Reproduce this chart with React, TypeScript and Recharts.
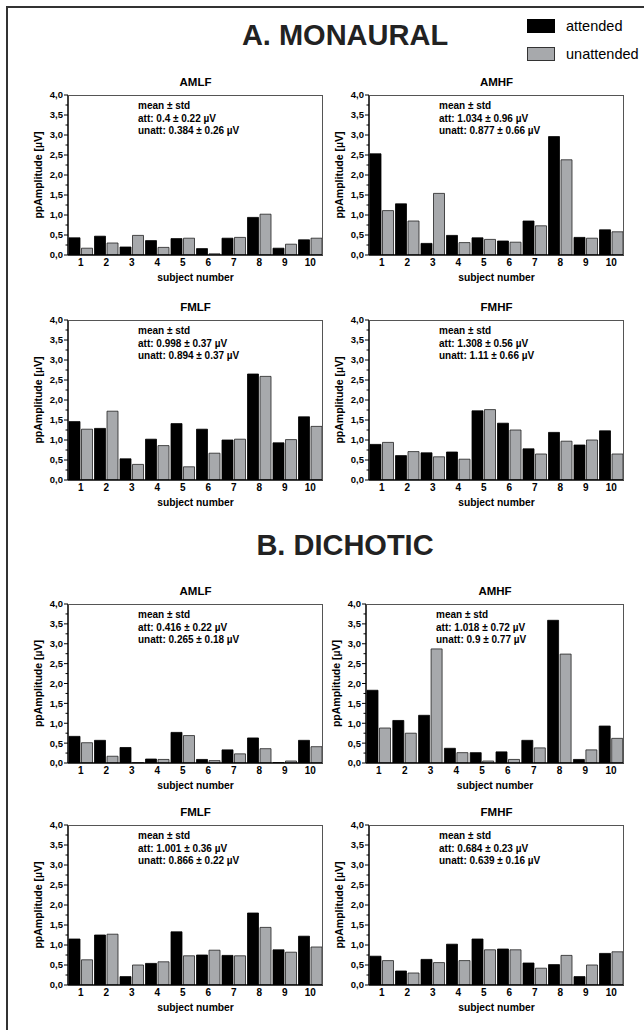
import React from 'react';
import { BarChart, Bar, XAxis, YAxis } from 'recharts';

const SUBJECTS = ['1', '2', '3', '4', '5', '6', '7', '8', '9', '10'];
const Y_TICKS = [0, 0.25, 0.5, 0.75, 1, 1.25, 1.5, 1.75, 2, 2.25, 2.5, 2.75, 3, 3.25, 3.5, 3.75, 4];

// A. MONAURAL
const MON_AMLF_ATT = [0.43, 0.47, 0.2, 0.36, 0.41, 0.16, 0.42, 0.94, 0.17, 0.38];
const MON_AMLF_UNATT = [0.17, 0.3, 0.49, 0.19, 0.42, 0.03, 0.44, 1.02, 0.27, 0.42];
const MON_AMHF_ATT = [2.53, 1.28, 0.29, 0.49, 0.43, 0.35, 0.85, 2.96, 0.44, 0.63];
const MON_AMHF_UNATT = [1.11, 0.85, 1.54, 0.31, 0.39, 0.32, 0.73, 2.38, 0.42, 0.58];
const MON_FMLF_ATT = [1.46, 1.29, 0.53, 1.02, 1.41, 1.27, 1.0, 2.65, 0.93, 1.58];
const MON_FMLF_UNATT = [1.27, 1.72, 0.39, 0.86, 0.33, 0.67, 1.02, 2.59, 1.01, 1.34];
const MON_FMHF_ATT = [0.89, 0.61, 0.68, 0.7, 1.73, 1.42, 0.78, 1.19, 0.875, 1.23];
const MON_FMHF_UNATT = [0.94, 0.71, 0.58, 0.52, 1.76, 1.25, 0.65, 0.97, 1.0, 0.65];

// B. DICHOTIC
const DIC_AMLF_ATT = [0.67, 0.57, 0.39, 0.1, 0.77, 0.09, 0.33, 0.63, 0.01, 0.57];
const DIC_AMLF_UNATT = [0.51, 0.17, 0.01, 0.09, 0.69, 0.06, 0.23, 0.36, 0.05, 0.41];
const DIC_AMHF_ATT = [1.83, 1.07, 1.2, 0.37, 0.26, 0.28, 0.57, 3.59, 0.09, 0.93];
const DIC_AMHF_UNATT = [0.88, 0.75, 2.87, 0.26, 0.05, 0.09, 0.38, 2.74, 0.33, 0.62];
const DIC_FMLF_ATT = [1.15, 1.25, 0.21, 0.54, 1.33, 0.75, 0.74, 1.8, 0.88, 1.22];
const DIC_FMLF_UNATT = [0.63, 1.27, 0.5, 0.58, 0.73, 0.87, 0.73, 1.44, 0.82, 0.95];
const DIC_FMHF_ATT = [0.72, 0.35, 0.64, 1.02, 1.15, 0.9, 0.55, 0.51, 0.21, 0.79];
const DIC_FMHF_UNATT = [0.61, 0.3, 0.56, 0.61, 0.88, 0.88, 0.42, 0.74, 0.5, 0.83];

const FONT = '"Liberation Sans", Arial, Helvetica, sans-serif';
const GRAY = '#a7a9ac';

const YTick = (props: any) => {
  const { x, y, payload } = props;
  const v = payload.value as number;
  const major = Math.abs(v * 2 - Math.round(v * 2)) < 1e-6;
  return (
    <g>
      <line x1={x} x2={x - (major ? 4 : 2.5)} y1={y} y2={y} stroke="#000" strokeWidth={1} />
      {major && (
        <text x={x - 5} y={y} dy={3.4} textAnchor="end" fontSize={9.5} fontWeight="bold" fontFamily={FONT} fill="#000">
          {v.toFixed(1).replace('.', ',')}
        </text>
      )}
    </g>
  );
};

type PanelProps = {
  px: number; py: number; pw: number; ph: number;
  title: string; att: number[]; unatt: number[]; note: string[];
};

const Panel = ({ px, py, pw, ph, title, att, unatt, note }: PanelProps) => {
  const data = SUBJECTS.map((s, i) => ({ subject: s, att: att[i], unatt: unatt[i] }));
  const mTop = 20, mLeft = 5, yW = 60, xH = 44, mBottom = 4, mRight = 6;
  const left = px - yW - mLeft;
  const top = py - mTop;
  const width = pw + yW + mLeft + mRight;
  const height = ph + mTop + xH + mBottom;
  return (
    <>
      <div style={{ position: 'absolute', left, top, width, height }}>
        <BarChart
          width={width}
          height={height}
          data={data}
          margin={{ top: mTop, left: mLeft, right: mRight, bottom: mBottom }}
          barCategoryGap={1}
          barGap={1.5}
        >
          <XAxis
            dataKey="subject"
            height={xH}
            interval={0}
            tickLine={false}
            tickSize={0}
            tickMargin={4}
            axisLine={{ stroke: '#000', strokeWidth: 1.5 }}
            tick={{ fontSize: 10, fontWeight: 'bold', fill: '#000', fontFamily: FONT }}
            label={{ value: 'subject number', position: 'center', fontSize: 10.3, fontWeight: 'bold', fill: '#000', fontFamily: FONT }}
          />
          <YAxis
            domain={[0, 4]}
            ticks={Y_TICKS}
            interval={0}
            width={yW}
            tickLine={false}
            tickSize={0}
            tickMargin={0}
            allowDataOverflow
            axisLine={{ stroke: '#000', strokeWidth: 1.5 }}
            tick={(p: any) => <YTick {...p} />}
            label={{ value: 'ppAmplitude [µV]', angle: -90, position: 'center', fontSize: 10.5, fontWeight: 'bold', fill: '#000', fontFamily: FONT }}
          />
          <Bar dataKey="att" fill="#000" stroke="#000" strokeWidth={0.8} isAnimationActive={false} />
          <Bar dataKey="unatt" fill={GRAY} stroke="#222" strokeWidth={0.8} isAnimationActive={false} />
        </BarChart>
      </div>
      <div
        style={{
          position: 'absolute', left: px, top: py, width: pw, height: ph,
          borderTop: '1px solid #555', borderRight: '1px solid #555', boxSizing: 'border-box', pointerEvents: 'none',
        }}
      />
      <div
        style={{
          position: 'absolute', left: px, top: py - 20, width: pw, height: 15, lineHeight: '15px',
          textAlign: 'center', fontFamily: FONT, fontWeight: 'bold', fontSize: 11.5, color: '#000',
        }}
      >
        {title}
      </div>
      <div
        style={{
          position: 'absolute', left: px + 70, top: py + 5, fontFamily: FONT, fontWeight: 'bold',
          fontSize: 10, lineHeight: '12.7px', color: '#000', whiteSpace: 'nowrap',
        }}
      >
        {note.map((n) => (
          <div key={n}>{n}</div>
        ))}
      </div>
    </>
  );
};

export default function App() {
  return (
    <div style={{ position: 'absolute', left: 0, top: 0, width: 644, height: 1030, background: '#fff', overflow: 'hidden', fontFamily: FONT }}>
      <div style={{ position: 'absolute', left: 6, top: 6, width: 700, height: 1100, borderLeft: '2px solid #333', borderTop: '2px solid #333' }} />
      <div style={{ position: 'absolute', left: 195, top: 21, width: 300, textAlign: 'center', fontSize: 29, lineHeight: '29px', fontWeight: 'bold', color: '#222' }}>
        A. MONAURAL
      </div>
      <div style={{ position: 'absolute', left: 195, top: 531, width: 300, textAlign: 'center', fontSize: 29, lineHeight: '29px', fontWeight: 'bold', color: '#222' }}>
        B. DICHOTIC
      </div>
      <div style={{ position: 'absolute', left: 527, top: 19, width: 28, height: 14, background: '#000' }} />
      <div style={{ position: 'absolute', left: 527, top: 47, width: 28, height: 14, background: GRAY, border: '1px solid #333', boxSizing: 'border-box' }} />
      <div style={{ position: 'absolute', left: 566, top: 17, fontSize: 14.5, lineHeight: '18px', color: '#000' }}>attended</div>
      <div style={{ position: 'absolute', left: 566, top: 45, fontSize: 14.5, lineHeight: '18px', color: '#000', whiteSpace: 'nowrap' }}>unattended</div>

      <Panel px={68} py={95} pw={255} ph={160} title="AMLF" att={MON_AMLF_ATT} unatt={MON_AMLF_UNATT}
        note={['mean ± std', 'att: 0.4 ± 0.22 µV', 'unatt: 0.384 ± 0.26 µV']} />
      <Panel px={369} py={95} pw={255} ph={160} title="AMHF" att={MON_AMHF_ATT} unatt={MON_AMHF_UNATT}
        note={['mean ± std', 'att: 1.034 ± 0.96 µV', 'unatt: 0.877 ± 0.66 µV']} />
      <Panel px={68} py={320} pw={255} ph={160} title="FMLF" att={MON_FMLF_ATT} unatt={MON_FMLF_UNATT}
        note={['mean ± std', 'att: 0.998 ± 0.37 µV', 'unatt: 0.894 ± 0.37 µV']} />
      <Panel px={369} py={320} pw={255} ph={160} title="FMHF" att={MON_FMHF_ATT} unatt={MON_FMHF_UNATT}
        note={['mean ± std', 'att: 1.308 ± 0.56 µV', 'unatt: 1.11 ± 0.66 µV']} />

      <Panel px={68} py={604} pw={255} ph={159} title="AMLF" att={DIC_AMLF_ATT} unatt={DIC_AMLF_UNATT}
        note={['mean ± std', 'att: 0.416 ± 0.22 µV', 'unatt: 0.265 ± 0.18 µV']} />
      <Panel px={366} py={604} pw={258} ph={159} title="AMHF" att={DIC_AMHF_ATT} unatt={DIC_AMHF_UNATT}
        note={['mean ± std', 'att: 1.018 ± 0.72 µV', 'unatt: 0.9 ± 0.77 µV']} />
      <Panel px={68} py={825} pw={255} ph={160} title="FMLF" att={DIC_FMLF_ATT} unatt={DIC_FMLF_UNATT}
        note={['mean ± std', 'att: 1.001 ± 0.36 µV', 'unatt: 0.866 ± 0.22 µV']} />
      <Panel px={369} py={825} pw={255} ph={160} title="FMHF" att={DIC_FMHF_ATT} unatt={DIC_FMHF_UNATT}
        note={['mean ± std', 'att: 0.684 ± 0.23 µV', 'unatt: 0.639 ± 0.16 µV']} />
    </div>
  );
}
